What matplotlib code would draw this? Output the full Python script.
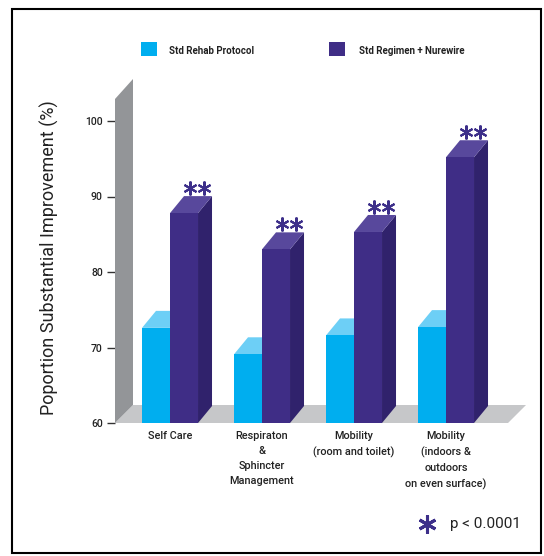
import numpy as np
import matplotlib.pyplot as plt
from matplotlib.patches import Polygon, Rectangle
from matplotlib.lines import Line2D

plt.rcParams['font.family'] = ['Roboto', 'DejaVu Sans']

categories = ["Self Care",
              "Respiraton\n&\nSphincter\nManagement",
              "Mobility\n(room and toilet)",
              "Mobility\n(indoors &\noutdoors\non even surface)"]
rehab = [72.6, 69.1, 71.6, 72.7]
nurewire = [87.8, 83.0, 85.3, 95.2]
yticks = [60, 70, 80, 90, 100]
series_names = ["Std Rehab Protocol", "Std Regimen + Nurewire"]

W, H = 544, 556
fig = plt.figure(figsize=(W / 100, H / 100), dpi=100)

# axes in pixel terms: x 115..532, y(60)=423px, 7.55 px per unit
ppu = 7.55
gpx = 92.0
ax = fig.add_axes([115 / W, (H - 423) / H, 417 / W, 46 * ppu / H])
ax.set_xlim(-0.598, -0.598 + 417 / gpx)
ax.set_ylim(60, 106)
for s in ax.spines.values():
    s.set_visible(False)
ax.set_xticks([])
ax.set_yticks(yticks)
ax.tick_params(axis='y', length=5.8, width=1, color='#333333', pad=3,
               labelsize=7.5, labelcolor='#222222')
for t in ax.get_yticklabels():
    t.set_fontweight('medium')

w = 28 / gpx
bdx, bdy = 14 / gpx, 17 / ppu
fdx, fdy = 18 / gpx, 18 / ppu
xl = -0.598
xr = 3.674

# floor and wall
ax.add_patch(Polygon([(xl, 60), (xr, 60), (xr + fdx, 60 + fdy), (xl + fdx, 60 + fdy)],
                     closed=True, fc='#c6c7c9', ec='none', zorder=1, clip_on=False))
ax.add_patch(Polygon([(xl, 60), (xl, 60 + (423 - 99) / ppu), (xl + fdx, 60 + (423 - 79) / ppu),
                      (xl + fdx, 60 + fdy)],
                     closed=True, fc='#939598', ec='none', zorder=2, clip_on=False))


def bar3d(x0, val, front, top, side, z):
    ax.add_patch(Polygon([(x0 + w, 60), (x0 + w + bdx, 60 + bdy), (x0 + w + bdx, val + bdy), (x0 + w, val)],
                         closed=True, fc=side, ec='none', zorder=z, clip_on=False))
    ax.add_patch(Polygon([(x0, val), (x0 + bdx, val + bdy), (x0 + w + bdx, val + bdy), (x0 + w, val)],
                         closed=True, fc=top, ec='none', zorder=z, clip_on=False))
    ax.add_patch(Rectangle((x0, 60), w, val - 60, fc=front, ec='none', zorder=z + 0.1, clip_on=False))


xs = np.arange(len(categories))
for i in xs:
    bar3d(i - w, rehab[i], '#00aeef', '#6dcff6', '#0093cc', 3 + i)
for i in xs:
    bar3d(i, nurewire[i], '#3f2d86', '#58489c', '#30226c', 3.5 + i)
    cx = i + w / 2 + bdx * 0.95
    cy = nurewire[i] + bdy + 1.1
    ax.plot([cx - 0.076, cx + 0.076], [cy, cy], ls='none', marker=(6, 2, 0),
            ms=10, mew=1.5, color='#3d2f8a', clip_on=False, zorder=10)

for i, lab in zip(xs, categories):
    ax.annotate(lab, (i, 60), xytext=(0, -6), textcoords='offset points',
                ha='center', va='top', fontsize=7.8, fontweight='medium',
                color='#222222', linespacing=1.6)

fig.text(49.5 / W, 1 - 258 / H, "Poportion Substantial Improvement (%)", rotation=90,
         ha='center', va='center', fontsize=13, color='#222222')

# legend
fig.add_artist(Rectangle((141 / W, 1 - 56 / H), 16 / W, 14 / H, fc='#00aeef', ec='none',
                         transform=fig.transFigure))
fig.add_artist(Rectangle((329 / W, 1 - 56 / H), 16 / W, 14 / H, fc='#3f2d86', ec='none',
                         transform=fig.transFigure))
fig.text(169 / W, 1 - 51 / H, series_names[0], ha='left', va='center', fontsize=7,
         fontweight='semibold', color='#222222')
fig.text(359 / W, 1 - 51 / H, series_names[1], ha='left', va='center', fontsize=7,
         fontweight='semibold', color='#222222')

fig.add_artist(Line2D([427 / W], [1 - 524 / H], marker=(6, 2, 0), ms=13, mew=2.2,
                      color='#3d2f8a', transform=fig.transFigure))
fig.text(450 / W, 1 - 524 / H, "p < 0.0001", ha='left', va='center', fontsize=11, color='#222222')

fig.add_artist(Rectangle((12 / W, 1 - 553 / H), 529 / W, 544 / H, fill=False, ec='black', lw=1.5,
                         transform=fig.transFigure))

fig.savefig('out.png', dpi=100)
